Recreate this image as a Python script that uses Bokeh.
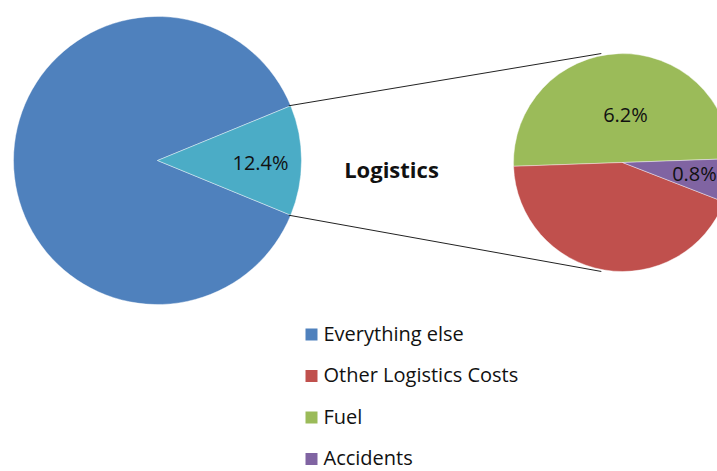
import numpy as np
from bokeh.plotting import figure
from bokeh.models import Range1d, ColumnDataSource
from bokeh.embed import file_html
from bokeh.resources import INLINE
from bokeh.core.properties import value

# ---- data ----
main_labels = ["Everything else", "Logistics"]
main_values = [87.6, 12.4]
sub_labels = ["Fuel", "Other Logistics Costs", "Accidents"]
sub_values = [6.2, 5.4, 0.8]
legend_labels = ["Everything else", "Other Logistics Costs", "Fuel", "Accidents"]

colors = {"Everything else": "#4F81BD", "Logistics": "#4BACC6",
          "Fuel": "#9BBB59", "Other Logistics Costs": "#C0504D",
          "Accidents": "#8064A2"}

W, H = 717, 471
FONT = "Open Sans"

def Y(py):
    return H - py

p = figure(width=W, height=H, output_backend="svg", toolbar_location=None,
           x_range=Range1d(0, W), y_range=Range1d(0, H), min_border=0)
p.axis.visible = False
p.grid.visible = False
p.outline_line_color = None
p.background_fill_color = "white"
p.border_fill_color = "white"

# ---- main pie ----
cx1, cy1, r1 = 157, Y(160), 144
total = sum(main_values)
logi_ang = main_values[1] / total * 2 * np.pi
starts1 = [logi_ang / 2, -logi_ang / 2]
ends1 = [2 * np.pi - logi_ang / 2, logi_ang / 2]
src1 = ColumnDataSource(dict(x=[cx1] * 2, y=[cy1] * 2, s=starts1, e=ends1,
                             c=[colors[k] for k in main_labels]))
p.wedge(x="x", y="y", radius=r1, start_angle="s", end_angle="e", fill_color="c",
        line_color="white", line_width=0.7, line_alpha=0.6, source=src1)

# ---- sub pie ----
cx2, cy2, r2 = 622, Y(162), 109
sub_total = sum(sub_values)
a0 = np.deg2rad(2.0)
angs = np.array(sub_values) / sub_total * 2 * np.pi
s2 = a0 + np.concatenate([[0], np.cumsum(angs)[:-1]])
e2 = a0 + np.cumsum(angs)
src2 = ColumnDataSource(dict(x=[cx2] * 3, y=[cy2] * 3, s=s2, e=e2,
                             c=[colors[k] for k in sub_labels]))
p.wedge(x="x", y="y", radius=r2, start_angle="s", end_angle="e", fill_color="c",
        line_color="white", line_width=0.7, line_alpha=0.6, source=src2)

# ---- connector lines ----
for sgn in (1, -1):
    a_big = sgn * logi_ang / 2
    a_small = np.deg2rad(90 + 11) if sgn == 1 else np.deg2rad(270 - 11)
    x0 = cx1 + r1 * np.cos(a_big) - 2
    y0 = cy1 + r1 * np.sin(a_big)
    x1 = cx2 + (r2 + 2) * np.cos(a_small)
    y1 = cy2 + (r2 + 2) * np.sin(a_small)
    p.line([x0, x1], [y0, y1], line_color="#222222", line_width=1)

# ---- data labels ----
p.text(x=[260], y=[Y(162)], text=[f"{main_values[1]:.1f}%"], text_align="center",
       text_baseline="middle", text_font=value(FONT), text_font_size="20px",
       text_color="#111111")
p.text(x=[625, 694], y=[Y(114), Y(173)], text=[f"{sub_values[0]:.1f}%", f"{sub_values[2]:.1f}%"],
       text_align="center", text_baseline="middle", text_font=value(FONT),
       text_font_size="20px", text_color="#111111")
p.text(x=[391], y=[Y(168)], text=[main_labels[1]], text_align="center",
       text_baseline="middle", text_font=value(FONT), text_font_size="22px",
       text_font_style="bold", text_color="#111111")

# ---- legend ----
ly = [Y(334 + 41.5 * i) for i in range(len(legend_labels))]
p.rect(x=[311] * 4, y=ly, width=12, height=12,
       fill_color=[colors[k] for k in legend_labels], line_color=None)
p.text(x=[323] * 4, y=[v + 1.5 for v in ly], text=legend_labels, text_align="left",
       text_baseline="middle", text_font=value(FONT), text_font_size="20px",
       text_color="#111111")

open("out.html", "w").write(file_html(p, INLINE))
